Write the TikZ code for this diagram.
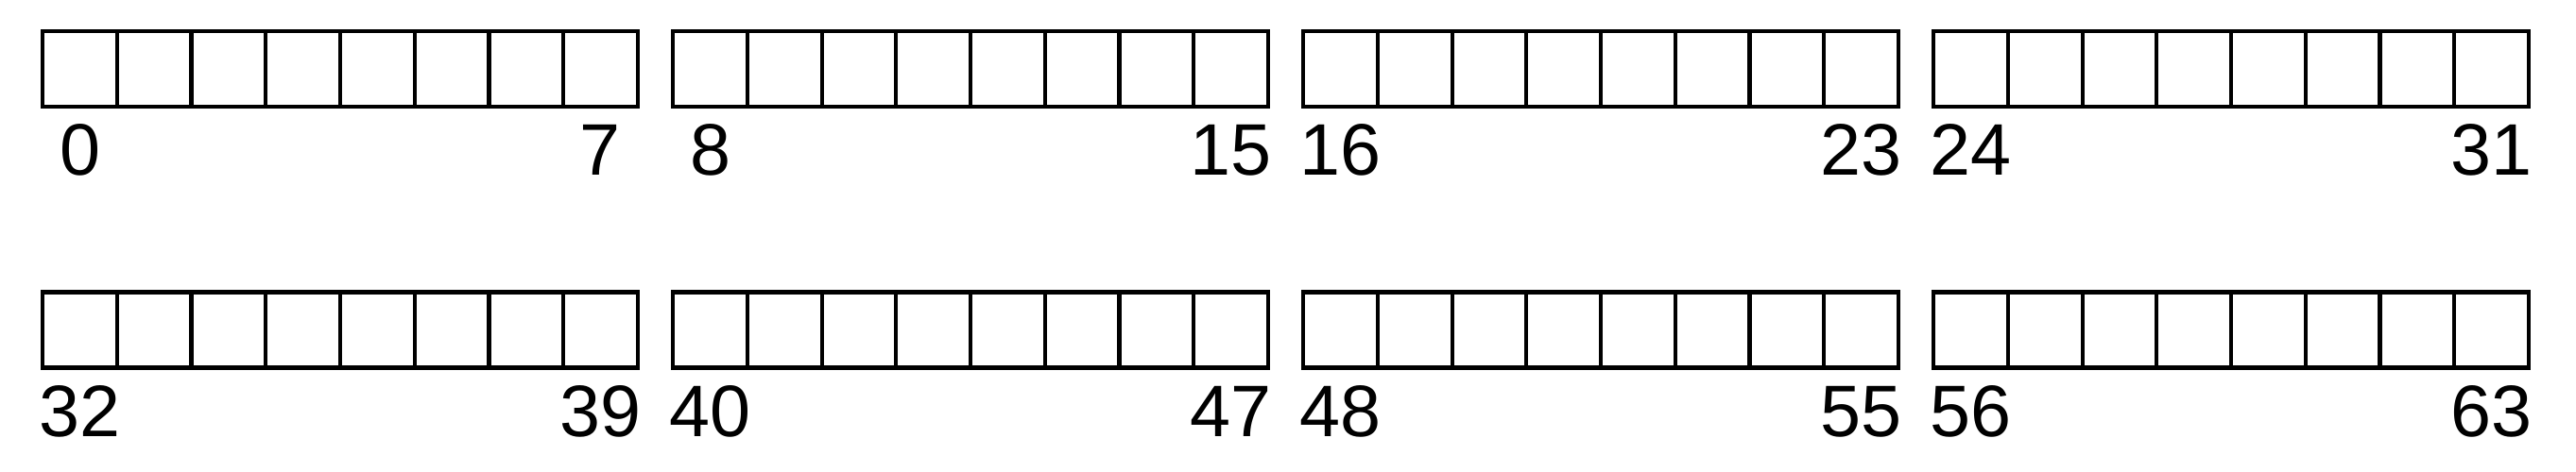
\documentclass[tikz,border=0pt]{standalone}
\usepackage{fontspec}
\setmainfont{Liberation Sans}
\begin{document}
\begin{tikzpicture}[x=1cm,y=1cm,
  cell/.style={draw, line width=1.2pt, minimum width=0.787cm, minimum height=0.80cm, inner sep=0pt, outer sep=0pt, anchor=north west},
  lbl/.style={font=\fontsize{22}{24}\selectfont, anchor=base, inner sep=0pt}]
\useasboundingbox (0,0) rectangle (27.26,5);
\foreach \r in {0,1} {
  \foreach \g in {0,...,3} {
    \foreach \c in {0,...,7} {
      \pgfmathtruncatemacro\n{\r*32+\g*8+\c}
      \node[cell] (c\n) at ({0.452+\g*6.67+\c*0.787}, {5-0.33-\r*2.765}) {};
    }
    \pgfmathtruncatemacro\first{\r*32+\g*8}
    \pgfmathtruncatemacro\last{\r*32+\g*8+7}
    \node[lbl] (l\first) at ([yshift=-0.73cm]c\first.south) {\first};
    \node[lbl] (l\last) at ([yshift=-0.73cm]c\last.south) {\last};
  }
}
\end{tikzpicture}
\end{document}
